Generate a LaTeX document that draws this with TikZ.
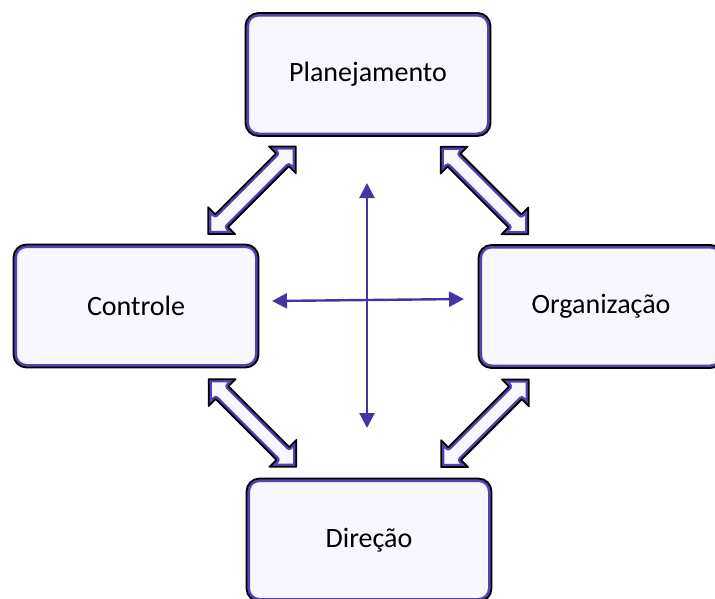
\documentclass[tikz,border=0pt]{standalone}
\usepackage{fontspec}
\setmainfont{Carlito}
\usetikzlibrary{calc,arrows.meta}
\definecolor{boxfill}{HTML}{F8F6FE}
\definecolor{rim}{HTML}{5542B4}
\definecolor{thin}{HTML}{4434A4}
\tikzset{
  box/.style={draw=black, line width=1.8pt, fill=boxfill, rounded corners=13pt,
    minimum width=245pt, minimum height=123pt, inner sep=0pt,
    font=\fontsize{28}{30}\selectfont,
    path picture={\draw[rim, line width=7pt, rounded corners=13pt]
      (path picture bounding box.south west) rectangle (path picture bounding box.north east);}},
  thinarrow/.style={draw=thin, line width=2.4pt, {Triangle[length=15pt,width=15pt]}-{Triangle[length=15pt,width=15pt]}},
}
\newcommand{\arrowshape}{(-62,0) -- (-43,19) -- (-43,9) -- (43,9) -- (43,19) -- (62,0)
      -- (43,-19) -- (43,-9) -- (-43,-9) -- (-43,-19) -- cycle}
\newcommand{\blockarrow}[2]{%
  \begin{scope}[shift={(#1)}, rotate=#2]
    \path[fill=boxfill] \arrowshape;
    \begin{scope}
      \clip \arrowshape;
      \draw[rim, line width=6.4pt, line join=round] \arrowshape;
    \end{scope}
    \draw[black, line width=1.8pt, line join=round] \arrowshape;
  \end{scope}}
\begin{document}
\begin{tikzpicture}[x=1pt,y=-1pt]
\useasboundingbox (0,0) rectangle (715,598);
\node[box] (P) at (368,74.5) {Planejamento};
\node[box] (C) at (136,306) {Controle};
\node[box] (O) at (601,306.5) {Organização};
\node[box] (D) at (369,540) {Direção};
\coordinate (tl) at ($(P.south west)!0.5!(C.north east)$);
\coordinate (tr) at ($(P.south east)!0.5!(O.north west)$);
\coordinate (bl) at ($(C.south east)!0.5!(D.north west)$);
\coordinate (br) at ($(O.south west)!0.5!(D.north east)$);
\blockarrow{tl}{45}
\blockarrow{tr}{-45}
\blockarrow{bl}{-45}
\blockarrow{br}{45}
\coordinate (vt) at (367,183);
\coordinate (vb) at (367,428);
\coordinate (hl) at (272,301);
\coordinate (hr) at (464,299);
\draw[thinarrow] (vt) -- (vb);
\draw[thinarrow] (hl) -- (hr);
\end{tikzpicture}
\end{document}
